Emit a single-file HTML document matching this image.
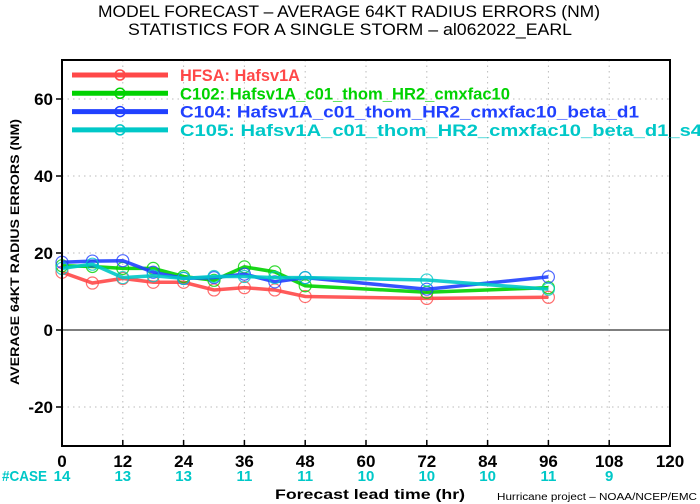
<!DOCTYPE html>
<html><head><meta charset="utf-8"><style>body{margin:0;background:#fff}svg{display:block}</style></head>
<body>
<svg id="chart" width="700" height="504" xmlns="http://www.w3.org/2000/svg" font-family="Liberation Sans, sans-serif">
<text x="349" y="17" font-size="17" text-anchor="middle" textLength="502" lengthAdjust="spacingAndGlyphs">MODEL FORECAST – AVERAGE 64KT RADIUS ERRORS (NM)</text>
<text x="350" y="35" font-size="17" text-anchor="middle" textLength="444" lengthAdjust="spacingAndGlyphs">STATISTICS FOR A SINGLE STORM – al062022_EARL</text>
<text transform="translate(19,252) rotate(-90)" font-size="12" font-weight="bold" text-anchor="middle" textLength="266" lengthAdjust="spacingAndGlyphs">AVERAGE 64KT RADIUS ERRORS (NM)</text>
<g id="grid"></g>
<g id="series"></g>
<rect x="62" y="60" width="608" height="386" fill="none" stroke="#000" stroke-width="2"/>
<g id="axes"></g>
<g id="legend"></g>
<text x="2" y="481" font-size="15" font-weight="bold" fill="#00c8c8" textLength="45" lengthAdjust="spacingAndGlyphs">#CASE</text>
<text x="370" y="499" font-size="14" font-weight="bold" text-anchor="middle" textLength="190" lengthAdjust="spacingAndGlyphs">Forecast lead time (hr)</text>
<text x="697" y="500" font-size="10" text-anchor="end" textLength="200" lengthAdjust="spacingAndGlyphs">Hurricane project – NOAA/NCEP/EMC</text>
</svg>
<script>
const xTicks=[0,12,24,36,48,60,72,84,96,108,120];
const yTicks=[-20,0,20,40,60];
const caseCounts=["14","13","13","11","11","10","10","10","11","9",""];
const leadTimes=[0,6,12,18,24,30,36,42,48,72,96];
const hfsa=[15.0,12.2,13.4,12.4,12.4,10.4,11.0,10.4,8.7,8.2,8.5];
const c102=[16.7,16.5,16.0,16.0,13.9,12.9,16.4,15.1,11.5,9.8,11.0];
const c104=[17.6,17.9,18.0,15.0,13.4,13.6,14.5,12.5,13.6,10.6,13.8];
const c105=[16.0,17.1,13.6,14.1,13.4,13.9,13.9,13.6,13.6,13.0,10.6];
const seriesNames=["HFSA: Hafsv1A","C102: Hafsv1A_c01_thom_HR2_cmxfac10","C104: Hafsv1A_c01_thom_HR2_cmxfac10_beta_d1","C105: Hafsv1A_c01_thom_HR2_cmxfac10_beta_d1_s4"];
const NS="http://www.w3.org/2000/svg";
const X=v=>62+v*608/120;
const Y=v=>330-v*3.85;
function mk(t,a,p){const e=document.createElementNS(NS,t);for(const k in a)e.setAttribute(k,a[k]);p.appendChild(e);return e;}
const grid=document.getElementById('grid'),axes=document.getElementById('axes'),ser=document.getElementById('series'),leg=document.getElementById('legend');
xTicks.forEach((t,i)=>{
 if(t>0&&t<120){const g=mk('line',{x1:X(t),x2:X(t),y1:60,y2:446,stroke:'#bbb','stroke-dasharray':'1.5,4'},grid);
 
 }
 const tk=mk('line',{x1:X(t),x2:X(t),y1:446,y2:440,stroke:'#000','stroke-width':1.5},axes);
 
 
 const lb=mk('text',{x:X(t),y:467,'font-size':17,'font-weight':'bold','text-anchor':'middle'},axes);lb.textContent=t;
 
 
 if(caseCounts[i]){const c=mk('text',{x:X(t),y:481,'font-size':15,'font-weight':'bold','text-anchor':'middle',fill:'#00c8c8'},axes);c.textContent=caseCounts[i];
 
 }
});
yTicks.forEach(t=>{
 const g=mk('line',{x1:62,x2:670,y1:Y(t),y2:Y(t),stroke:t===0?'#555':'#bbb','stroke-width':t===0?1.5:1,'stroke-dasharray':t===0?'none':'1.5,4'},grid);
 
 
 const tk=mk('line',{x1:56,x2:62,y1:Y(t),y2:Y(t),stroke:'#000','stroke-width':1.5},axes);
 
 
 const lb=mk('text',{x:53,y:Y(t)+6,'font-size':17,'font-weight':'bold','text-anchor':'end'},axes);lb.textContent=t;
 
 
});
const data=[hfsa,c102,c104,c105];
const colors=['#ff4848','#00d200','#2040ff','#00c8c8'];
const ids=['hfsa','c102','c104','c105'];
data.forEach((d,s)=>{
 const pl=mk('polyline',{points:d.map((v,i)=>X(leadTimes[i])+','+Y(v)).join(' '),fill:'none',stroke:colors[s],'stroke-width':3.5,opacity:0.9},ser);
 
 
 d.forEach((v,i)=>{const c=mk('circle',{cx:X(leadTimes[i]),cy:Y(v),r:6,fill:'none',stroke:colors[s],'stroke-width':1.2,opacity:0.8},ser);
 
 });
 const ly=75+s*18.3;
 const ll=mk('line',{x1:72,x2:168,y1:ly,y2:ly,stroke:colors[s],'stroke-width':5},leg);
 
 
 const lc=mk('circle',{cx:120,cy:ly,r:5,fill:'none',stroke:colors[s],'stroke-width':1.5},leg);
 
 
 const len=[120,330,459,522][s];
 const lt=mk('text',{x:180,y:ly+6,'font-size':17,'font-weight':'bold',fill:colors[s],textLength:len,lengthAdjust:'spacingAndGlyphs'},leg);lt.textContent=seriesNames[s];
 
 
});
</script>
</body></html>
